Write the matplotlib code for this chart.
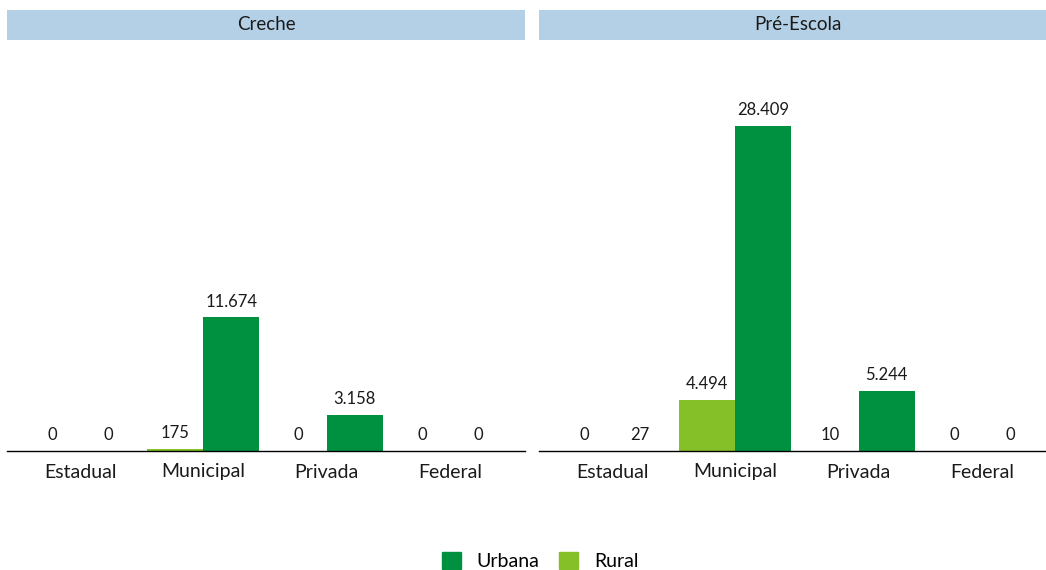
import matplotlib
matplotlib.use('Agg')
import matplotlib.pyplot as plt
from matplotlib.patches import Patch
import numpy as np

###  data
panels = ['Creche', 'Pré-Escola']
categories = ['Estadual', 'Municipal', 'Privada', 'Federal']
rural = [[0, 175, 0, 0], [0, 4494, 10, 0]]
urbana = [[0, 11674, 3158, 0], [27, 28409, 5244, 0]]

darkGreen = '#009140'
lightGreen = '#86c028'
stripBlue = '#b4d0e6'
textCol = '#1a1a1a'

plt.rcParams['font.family'] = ['Lato', 'DejaVu Sans']

def fmt(v):
    return '{:,}'.format(v).replace(',', '.')

fig = plt.figure(figsize=(10.46, 5.70), dpi=100)

W, H = 1046., 570.
axW = 518 / W
bottom = (H - 451) / H
top = (H - 40) / H
ymax = max(max(u) for u in urbana) * 1.265
x = np.arange(len(categories))
bw = 0.454

for p, name in enumerate(panels):
    left = [7, 539][p] / W
    ax = fig.add_axes([left, bottom, axW, top - bottom])
    ax.bar(x - bw/2, rural[p], bw, color=lightGreen)
    ax.bar(x + bw/2, urbana[p], bw, color=darkGreen)
    for i in x:
        ax.annotate(fmt(rural[p][i]), (i - bw/2, rural[p][i]), xytext=(0, 5.5),
                    textcoords='offset points', ha='center', va='bottom',
                    fontsize=12, color=textCol)
        ax.annotate(fmt(urbana[p][i]), (i + bw/2, urbana[p][i]), xytext=(0, 5.5),
                    textcoords='offset points', ha='center', va='bottom',
                    fontsize=12, color=textCol)
    ax.set_xlim(-0.592, 3.608)
    ax.set_ylim(0, ymax)
    ax.set_xticks(x)
    ax.set_xticklabels(categories, fontsize=14, color=textCol)
    ax.tick_params(axis='x', length=0, pad=9)
    ax.set_yticks([])
    for s in ['top', 'left', 'right']:
        ax.spines[s].set_visible(False)
    ax.spines['bottom'].set_color('black')
    ax.spines['bottom'].set_linewidth(1)

    ###  strip header above each panel
    strip = fig.add_axes([left, (H - 40) / H, axW, 30 / H])
    strip.set_facecolor(stripBlue)
    strip.set_xticks([])
    strip.set_yticks([])
    for s in strip.spines.values():
        s.set_visible(False)
    strip.text(0.5, 0.5, name, ha='center', va='center', fontsize=13.5,
               color=textCol, transform=strip.transAxes)

handles = [Patch(color=darkGreen, label='Urbana'),
           Patch(color=lightGreen, label='Rural')]
fig.legend(handles=handles, loc='center', bbox_to_anchor=(540 / W, 1 - 561 / H),
           ncol=2, frameon=False, fontsize=14, handlelength=1.0,
           handleheight=1.0, columnspacing=1.0, handletextpad=0.8)

fig.savefig('out.png', dpi=100)
